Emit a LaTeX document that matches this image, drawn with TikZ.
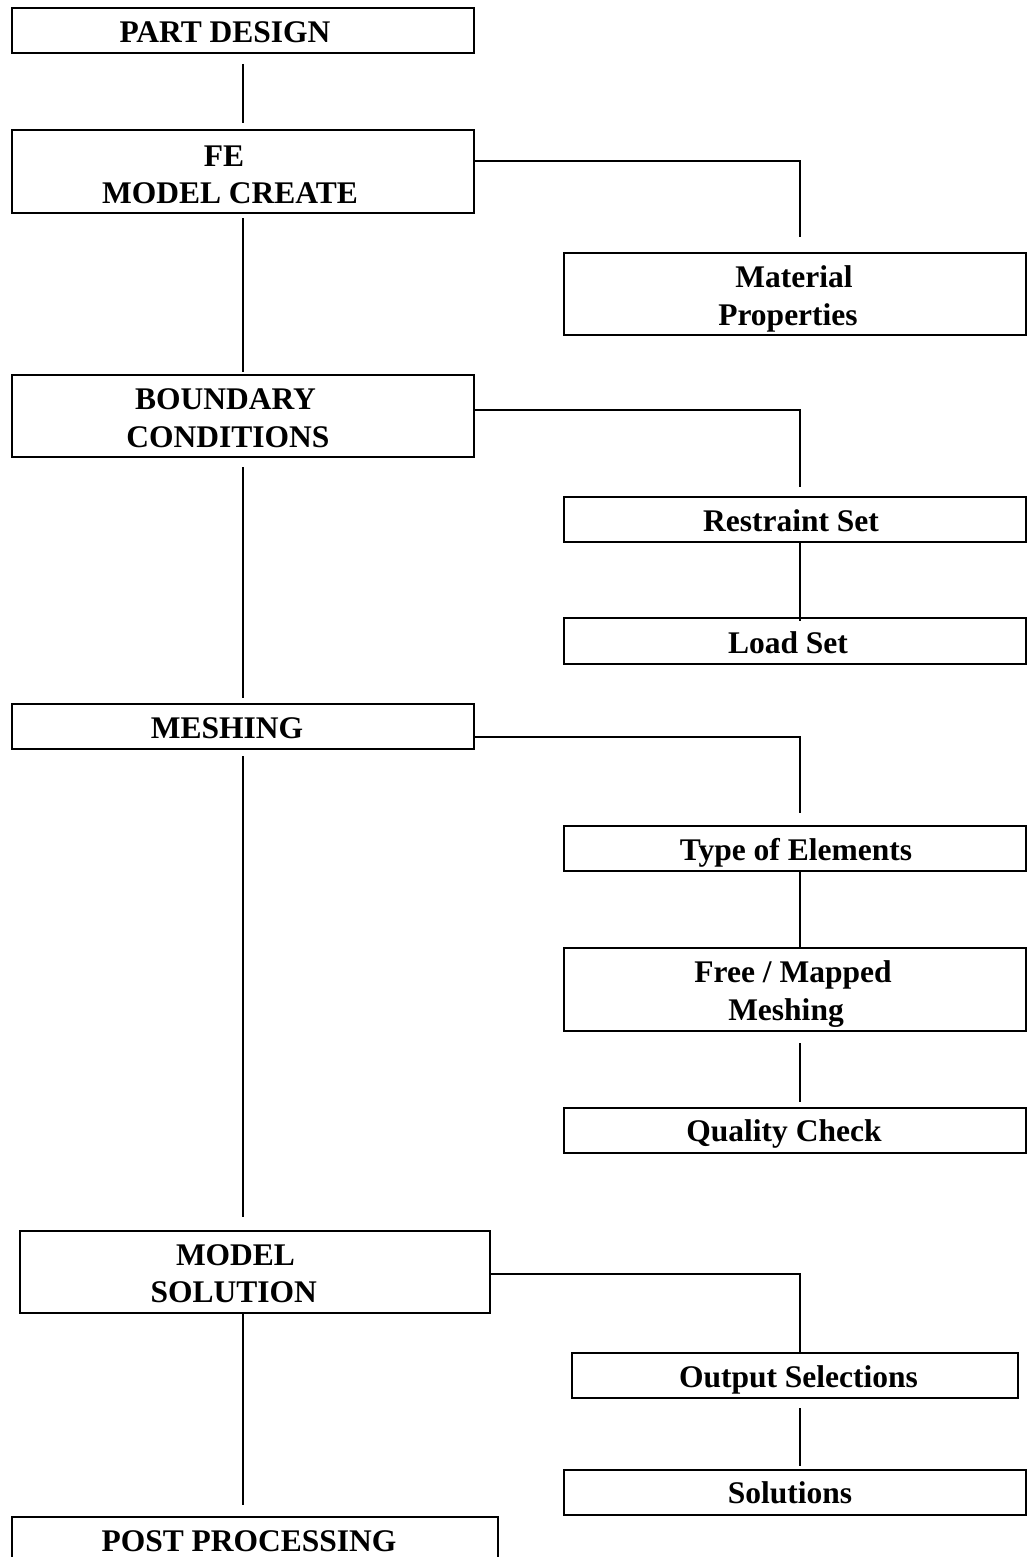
\documentclass[tikz,border=0pt]{standalone}
\usepackage{fontspec}
\setmainfont{Liberation Serif}
\begin{document}
\begin{tikzpicture}[x=1pt,y=-1pt,
  box/.style={draw, line width=2pt, inner sep=0pt, outer sep=0pt, minimum width=462pt},
  lbl/.style={anchor=base, inner sep=0pt, font=\fontsize{31.5}{36}\selectfont\bfseries},
  conn/.style={draw, line width=1.3pt}]
\useasboundingbox (0,0) rectangle (1030,1557);
\clip (0,0) rectangle (1030,1557);
% main column boxes
\node[box, minimum height=45pt] (pd) at (243,30.5) {};
\node[box, minimum height=83pt] (fe) at (243,171.5) {};
\node[box, minimum height=82pt] (bc) at (243,416) {};
\node[box, minimum height=45pt] (me) at (243,726.5) {};
\node[box, minimum height=82pt, minimum width=470pt] (ms) at (255,1272) {};
\node[box, minimum height=83pt, minimum width=486pt] (pp) at (255,1558.5) {};
% side boxes
\node[box, minimum height=82pt] (mat) at (795,294) {};
\node[box, minimum height=45pt] (rs) at (795,519.5) {};
\node[box, minimum height=46pt] (ls) at (795,641) {};
\node[box, minimum height=45pt] (te) at (795,848.5) {};
\node[box, minimum height=83pt] (fm) at (795,989.5) {};
\node[box, minimum height=45pt] (qc) at (795,1130.5) {};
\node[box, minimum height=45pt, minimum width=446pt] (os) at (795,1375.5) {};
\node[box, minimum height=45pt] (so) at (795,1492.5) {};
% labels
\node[lbl] (tpd) at (225,42.7) {PART DESIGN};
\node[lbl] (tfe1) at (224,166.7) {FE};
\node[lbl] (tfe2) at (230,203.3) {MODEL CREATE};
\node[lbl] (tmat1) at (794,287.3) {Material};
\node[lbl] (tmat2) at (788,325) {Properties};
\node[lbl] (tbc1) at (225.5,409) {BOUNDARY};
\node[lbl] (tbc2) at (228,447.3) {CONDITIONS};
\node[lbl] (trs) at (791,531) {Restraint Set};
\node[lbl] (tls) at (788,653.3) {Load Set};
\node[lbl] (tme) at (227,738.3) {MESHING};
\node[lbl] (tte) at (796,860) {Type of Elements};
\node[lbl] (tfm1) at (793,982.7) {Free / Mapped};
\node[lbl] (tfm2) at (786,1020) {Meshing};
\node[lbl] (tqc) at (784,1141.7) {Quality Check};
\node[lbl] (tms1) at (235.5,1265) {MODEL};
\node[lbl] (tms2) at (233.7,1302.7) {SOLUTION};
\node[lbl] (tos) at (798.5,1387.3) {Output Selections};
\node[lbl] (tso) at (790,1503.3) {Solutions};
\node[lbl] (tpp) at (249,1551) {POST PROCESSING};
% main column connectors
\draw[conn] ([yshift=-11pt]pd.south) -- ([yshift=7pt]fe.north);
\draw[conn] ([yshift=-5pt]fe.south) -- ([yshift=3pt]bc.north);
\draw[conn] ([yshift=-10pt]bc.south) -- ([yshift=6pt]me.north);
\draw[conn] ([yshift=-7pt]me.south) -- ([yshift=14pt]ms.north -| me.south);
\draw[conn] (ms.south -| me.south) -- ([yshift=12pt]pp.north -| me.south);
% branches
\draw[conn] ([yshift=10.5pt]fe.east) -| ([xshift=5pt,yshift=16pt]mat.north);
\draw[conn] ([yshift=6pt]bc.east) -| ([xshift=5pt,yshift=10pt]rs.north);
\draw[conn] ([xshift=5pt]rs.south) -- ([xshift=5pt,yshift=-3pt]ls.north);
\draw[conn] ([yshift=-10.5pt]me.east) -| ([xshift=5pt,yshift=13pt]te.north);
\draw[conn] ([xshift=5pt]te.south) -- ([xshift=5pt]fm.north);
\draw[conn] ([xshift=5pt,yshift=-12pt]fm.south) -- ([xshift=5pt,yshift=6pt]qc.north);
\draw[conn] ([yshift=-2pt]ms.east) -| ([xshift=5pt]os.north);
\draw[conn] ([xshift=5pt,yshift=-10pt]os.south) -- ([xshift=5pt,yshift=4pt]so.north);
\end{tikzpicture}
\end{document}
